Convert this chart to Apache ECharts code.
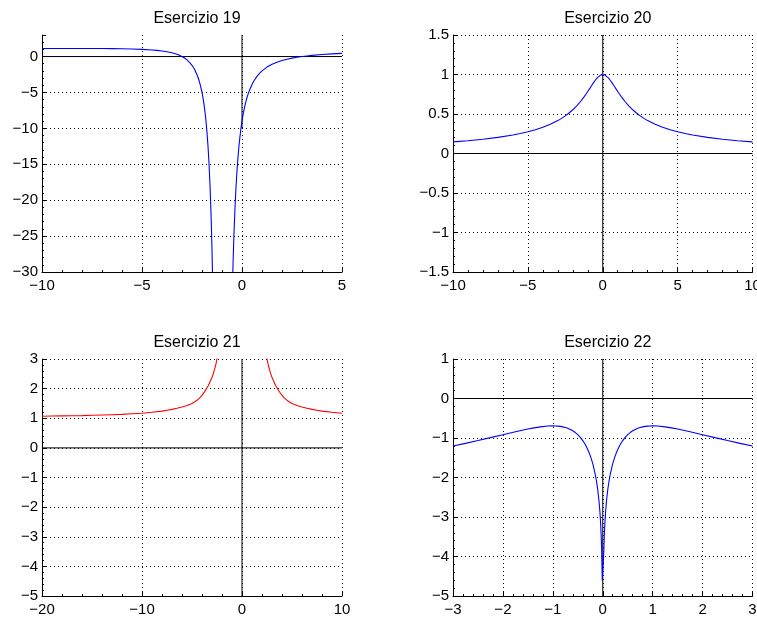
<!DOCTYPE html>
<html>
<head>
<meta charset="utf-8">
<script src="https://cdn.jsdelivr.net/npm/echarts@6/dist/echarts.min.js"></script>
<style>html,body{margin:0;padding:0;background:#fff}#c{width:757px;height:621px}</style>
</head>
<body>
<div id="c"></div>
<script>
// ---- Data ----
const titles = ['Esercizio 19', 'Esercizio 20', 'Esercizio 21', 'Esercizio 22'];

const ex19Left = [[-10,1.1235],[-9,1.125],[-8,1.1224],[-7.5,1.1183],[-7,1.1111],[-6.5,1.0992],[-6,1.08],[-5.5,1.0494],[-5,1],[-4.5,0.9184],[-4.25,0.858],[-4,0.7778],[-3.75,0.6694],[-3.5,0.52],[-3.25,0.3086],[-3,0],[-2.875,-0.2089],[-2.75,-0.4694],[-2.625,-0.7988],[-2.5,-1.2222],[-2.375,-1.7769],[-2.25,-2.52],[-2.175,-3.0924],[-2.1,-3.7934],[-2,-5],[-1.95,-5.759],[-1.9,-6.654],[-1.85,-7.72],[-1.8,-9],[-1.75,-10.556],[-1.7,-12.469],[-1.65,-14.858],[-1.6,-17.889],[-1.55,-21.81],[-1.525,-24.22],[-1.5,-27],[-1.475,-30.25],[-1.45,-34.06]];
const ex19Right = [[-0.55,-42.95],[-0.5,-35],[-0.475,-31.84],[-0.45,-29.08],[-0.425,-26.68],[-0.4,-24.56],[-0.35,-21.01],[-0.3,-18.18],[-0.25,-15.89],[-0.2,-14],[-0.15,-12.43],[-0.1,-11.1],[-0.05,-9.97],[0,-9],[0.05,-8.16],[0.1,-7.43],[0.175,-6.497],[0.25,-5.72],[0.3,-5.272],[0.4,-4.51],[0.5,-3.89],[0.6,-3.375],[0.75,-2.755],[0.875,-2.342],[1,-2],[1.25,-1.469],[1.5,-1.08],[1.75,-0.785],[2,-0.556],[2.25,-0.3728],[2.5,-0.2245],[2.75,-0.1022],[3,0],[3.25,0.0865],[3.5,0.16],[4,0.28],[4.5,0.372],[5,0.444]];

const ex20 = [[-10,0.1471],[-9,0.1622],[-8,0.1808],[-7,0.2041],[-6,0.2343],[-5.5,0.2529],[-5,0.2747],[-4.5,0.3005],[-4,0.3315],[-3.5,0.3693],[-3,0.4163],[-2.75,0.4443],[-2.5,0.4761],[-2.25,0.5123],[-2,0.5536],[-1.75,0.601],[-1.5,0.6552],[-1.375,0.6851],[-1.25,0.7169],[-1.125,0.7504],[-1,0.7854],[-0.875,0.8215],[-0.75,0.858],[-0.625,0.8938],[-0.5,0.9273],[-0.375,0.9567],[-0.25,0.9799],[-0.125,0.9948],[0,1],[0.125,0.9948],[0.25,0.9799],[0.375,0.9567],[0.5,0.9273],[0.625,0.8938],[0.75,0.858],[0.875,0.8215],[1,0.7854],[1.125,0.7504],[1.25,0.7169],[1.375,0.6851],[1.5,0.6552],[1.75,0.601],[2,0.5536],[2.25,0.5123],[2.5,0.4761],[2.75,0.4443],[3,0.4163],[3.5,0.3693],[4,0.3315],[4.5,0.3005],[5,0.2747],[5.5,0.2529],[6,0.2343],[7,0.2041],[8,0.1808],[9,0.1622],[10,0.1471]];

const ex21Left = [[-20,1.07],[-19,1.075],[-18,1.08],[-17,1.085],[-16,1.09],[-15,1.1],[-14,1.11],[-13,1.12],[-12,1.13],[-11,1.15],[-10,1.17],[-9,1.2],[-8,1.24],[-7.5,1.27],[-7,1.3],[-6.5,1.335],[-6,1.38],[-5.5,1.43],[-5,1.5],[-4.75,1.55],[-4.5,1.61],[-4.25,1.68],[-4,1.77],[-3.75,1.89],[-3.625,1.955],[-3.5,2.03],[-3.375,2.1],[-3.25,2.19],[-3.125,2.28],[-3,2.38],[-2.875,2.5],[-2.75,2.64],[-2.625,2.8],[-2.5,3.0],[-2.4,3.2],[-2.3,3.45]];
const ex21Right = [[2.3,3.45],[2.4,3.2],[2.5,3.0],[2.625,2.8],[2.75,2.64],[2.875,2.5],[3,2.38],[3.125,2.28],[3.25,2.19],[3.375,2.1],[3.5,2.03],[3.625,1.955],[3.75,1.89],[4,1.77],[4.25,1.68],[4.5,1.61],[4.75,1.55],[5,1.5],[5.5,1.43],[6,1.38],[6.5,1.335],[7,1.3],[7.5,1.27],[8,1.24],[9,1.2],[10,1.17]];

const ex22 = [[-3,-1.204],[-2.75,-1.1358],[-2.5,-1.0647],[-2.25,-0.9912],[-2,-0.9163],[-1.75,-0.8422],[-1.5,-0.7732],[-1.375,-0.743],[-1.25,-0.7179],[-1.1,-0.6977],[-1,-0.6931],[-0.95,-0.6945],[-0.9,-0.6987],[-0.85,-0.7063],[-0.8,-0.7178],[-0.75,-0.734],[-0.7,-0.7555],[-0.65,-0.7832],[-0.6,-0.8183],[-0.55,-0.8621],[-0.5,-0.9163],[-0.45,-0.9829],[-0.4,-1.0647],[-0.35,-1.1654],[-0.3,-1.2902],[-0.25,-1.4469],[-0.2,-1.6487],[-0.15,-1.9194],[-0.125,-2.0949],[-0.1,-2.3125],[-0.075,-2.596],[-0.06,-2.817],[-0.05,-2.998],[-0.04,-3.2205],[-0.03,-3.508],[-0.02,-3.912],[-0.01,-4.605],[0.01,-4.605],[0.02,-3.912],[0.03,-3.508],[0.04,-3.2205],[0.05,-2.998],[0.06,-2.817],[0.075,-2.596],[0.1,-2.3125],[0.125,-2.0949],[0.15,-1.9194],[0.2,-1.6487],[0.25,-1.4469],[0.3,-1.2902],[0.35,-1.1654],[0.4,-1.0647],[0.45,-0.9829],[0.5,-0.9163],[0.55,-0.8621],[0.6,-0.8183],[0.65,-0.7832],[0.7,-0.7555],[0.75,-0.734],[0.8,-0.7178],[0.85,-0.7063],[0.9,-0.6987],[0.95,-0.6945],[1,-0.6931],[1.1,-0.6977],[1.25,-0.7179],[1.375,-0.743],[1.5,-0.7732],[1.75,-0.8422],[2,-0.9163],[2.25,-0.9912],[2.5,-1.0647],[2.75,-1.1358],[3,-1.204]];

// axis ranges [min, max, interval]
const xRanges = [[-10,5,5],[-10,10,5],[-20,10,10],[-3,3,1]];
const yRanges = [[-30,3,5],[-1.5,1.5,0.5],[-5,3,1],[-5,1,1]];
// reference axis lines
const hLines = [[[-10,0],[5,0]], [[-10,0],[10,0]], [[-20,0],[10,0]], [[-3,0],[3,0]]];
const vLines = [[[0,3],[0,-10]], [[0,1.5],[0,-1.5]], [[0,3],[0,-5]], [[0,1],[0,-5]]];

// ---- Layout ----
const FONT = 'Liberation Sans';
const gridPos = [
  {left: 42, top: 35, width: 300, height: 237},
  {left: 453, top: 35, width: 299.5, height: 237},
  {left: 42, top: 359, width: 300, height: 237},
  {left: 453, top: 359, width: 299.5, height: 237}
];
const fmt = v => String(Math.round(v * 1000) / 1000).replace('-', '\u2212');

const grids = gridPos.map(g => Object.assign({containLabel: false, outerBoundsMode: 'none'}, g));
const xAxes = [], yAxes = [], titleArr = [], series = [];

function splitColors(rng) {
  const [mn, mx, iv] = rng;
  const n = Math.floor((mx - mn) / iv + 1e-9);
  const onGrid = Math.abs(mn + n * iv - mx) < 1e-9;
  const arr = [];
  for (let i = 0; i <= n; i++) arr.push('#000');
  if (!onGrid) arr.push('rgba(0,0,0,0)');
  return arr;
}

for (let i = 0; i < 4; i++) {
  const common = {
    type: 'value', gridIndex: i,
    axisLine: {show: true, onZero: false, lineStyle: {color: '#000', width: 1}},
    axisTick: {show: true, inside: true, length: 4, lineStyle: {color: '#000'}},
    minorTick: {show: true, splitNumber: 5, length: 2, lineStyle: {color: '#000'}},
    axisLabel: {color: '#000', fontFamily: FONT, fontSize: 15, formatter: fmt}
  };
  const xr = xRanges[i], yr = yRanges[i];
  xAxes.push(Object.assign({}, common, {
    min: xr[0], max: xr[1], interval: xr[2],
    axisLabel: Object.assign({}, common.axisLabel, {margin: 6}),
    splitLine: {show: true, lineStyle: {type: [1, 3], width: 1, color: splitColors(xr)}}
  }));
  yAxes.push(Object.assign({}, common, {
    min: yr[0], max: yr[1], interval: yr[2],
    axisLabel: Object.assign({}, common.axisLabel, {margin: 4, showMaxLabel: Math.abs(((yr[1]-yr[0])/yr[2]) % 1) < 1e-9}),
    splitLine: {show: true, lineStyle: {type: [1, 3], width: 1, color: splitColors(yr)}}
  }));
  const g = gridPos[i];
  titleArr.push({
    text: titles[i], left: g.left + g.width / 2, top: g.top - 29, textAlign: 'center',
    textStyle: {fontFamily: FONT, fontSize: 16, fontWeight: 'normal', color: '#000'}
  });
  series.push({type: 'line', xAxisIndex: i, yAxisIndex: i, data: hLines[i], showSymbol: false, silent: true,
    lineStyle: {color: '#000', width: 1}, z: 3});
  series.push({type: 'line', xAxisIndex: i, yAxisIndex: i, data: vLines[i], showSymbol: false, silent: true,
    lineStyle: {color: '#000', width: 1}, z: 3});
}

const curve = (i, data, color) => ({
  type: 'line', xAxisIndex: i, yAxisIndex: i, data: data, showSymbol: false, smooth: false,
  clip: true, lineStyle: {color: color, width: 1.1}, z: 4
});
series.push(curve(0, ex19Left, '#0000ff'));
series.push(curve(0, ex19Right, '#0000ff'));
series.push(curve(1, ex20, '#0000ff'));
series.push(curve(2, ex21Left, '#ff0000'));
series.push(curve(2, ex21Right, '#ff0000'));
series.push(curve(3, ex22, '#0000ff'));

const chart = echarts.init(document.getElementById('c'), null, {renderer: 'canvas'});
chart.setOption({
  animation: false,
  backgroundColor: '#fff',
  title: titleArr,
  grid: grids,
  xAxis: xAxes,
  yAxis: yAxes,
  series: series
});
</script>
</body>
</html>
